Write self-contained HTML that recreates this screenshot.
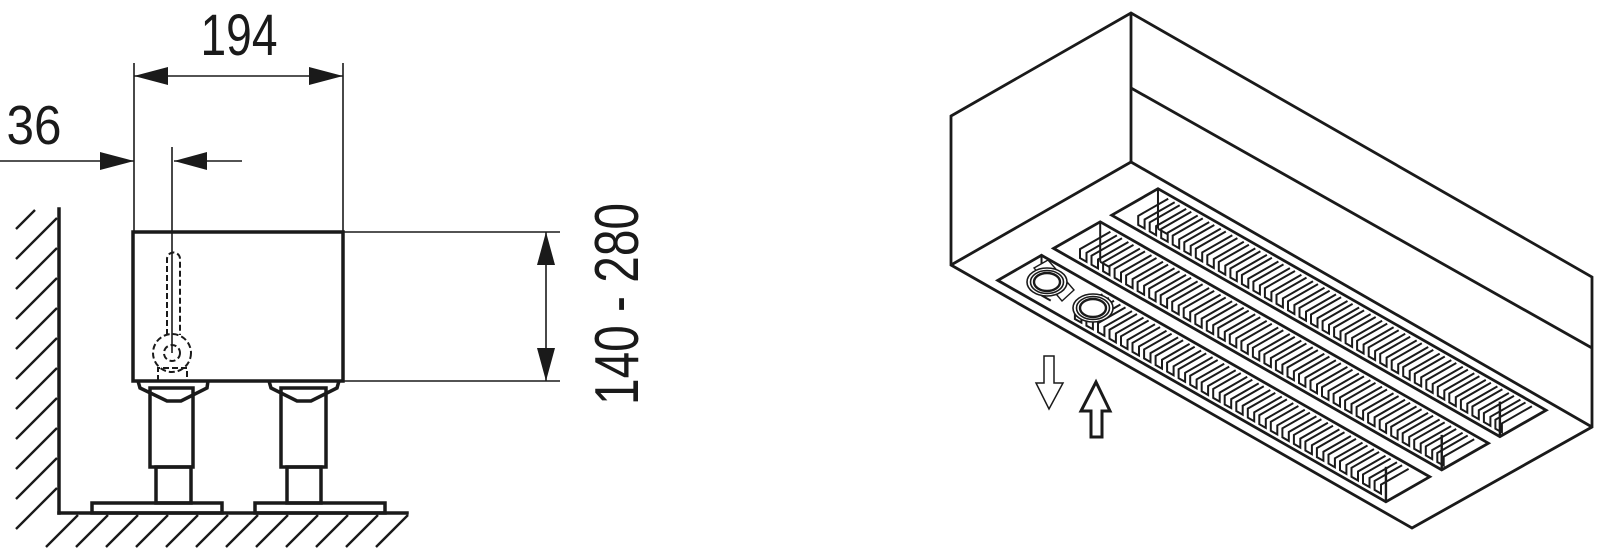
<!DOCTYPE html>
<html><head><meta charset="utf-8"><style>
html,body{margin:0;padding:0;background:#fff;}
svg{display:block;}
text{font-family:"Liberation Sans",sans-serif;fill:#1a1a1a;}
</style></head><body>
<svg id="s" width="1600" height="557" viewBox="0 0 1600 557" xmlns="http://www.w3.org/2000/svg">
<g id="hatch" stroke="#1a1a1a" stroke-width="2.4" fill="none"></g>
<g stroke="#1a1a1a" stroke-width="3.5" fill="none" stroke-linecap="square">
<line x1="59" y1="209" x2="59" y2="513"/>
<line x1="59" y1="513" x2="407" y2="513"/>
</g>
<g stroke="#1a1a1a" stroke-width="1.6" fill="none">
<line x1="134" y1="63" x2="134" y2="232"/>
<line x1="343" y1="63" x2="343" y2="232"/>
<line x1="134" y1="76" x2="343" y2="76"/>
<line x1="0" y1="161" x2="134" y2="161"/>
<line x1="174" y1="161" x2="242" y2="161"/>
<line x1="172" y1="147" x2="172" y2="353"/>
<line x1="343" y1="232" x2="560" y2="232"/>
<line x1="343" y1="381" x2="560" y2="381"/>
<line x1="546" y1="232" x2="546" y2="381"/>
</g>
<g fill="#1a1a1a">
<polygon points="134,76 168,67 168,85"/>
<polygon points="343,76 309,67 309,85"/>
<polygon points="134,161 100,152 100,170"/>
<polygon points="174,161 207,152 207,170"/>
<polygon points="546,232 537,265 555,265"/>
<polygon points="546,381 537,348 555,348"/>
</g>
<text x="239" y="55" font-size="58" text-anchor="middle" textLength="77" lengthAdjust="spacingAndGlyphs">194</text>
<text x="34" y="144" font-size="55" text-anchor="middle" textLength="55" lengthAdjust="spacingAndGlyphs">36</text>
<text transform="translate(638,304) rotate(-90)" x="0" y="0" font-size="62" text-anchor="middle" textLength="202" lengthAdjust="spacingAndGlyphs">140 - 280</text>
<g stroke="#1a1a1a" stroke-width="3.5" fill="none" stroke-linejoin="miter">
<rect x="133" y="232" width="210" height="149"/>
<path d="M138 381 L140 388 L167 401 L181 401 L207 388 L208 381"/>
<rect x="150" y="388" width="43" height="79"/>
<rect x="156" y="467" width="35" height="36"/>
<rect x="92" y="503" width="130" height="10"/>
<path d="M269 381 L271 388 L297 401 L311 401 L337 388 L339 381"/>
<rect x="281" y="388" width="45" height="79"/>
<rect x="287" y="467" width="34" height="36"/>
<rect x="255" y="503" width="130" height="10"/>
</g>
<g stroke="#1a1a1a" stroke-width="2" fill="none" stroke-dasharray="6,3">
<path d="M167 335 L167 259 A6.5 6.5 0 0 1 180 259 L180 335"/>
<circle cx="172" cy="353" r="19"/>
<circle cx="172" cy="353" r="8"/>
<path d="M158 381 L158 368 L187 368 L187 381"/>
</g>
<g stroke="#1a1a1a" stroke-width="2.8" fill="none" stroke-linejoin="miter">
<polygon points="951,116 1131,13 1592,277 1592,427 1412,528 951,265"/>
<line x1="1131" y1="13" x2="1131" y2="162"/>
<line x1="1131" y1="88" x2="1592" y2="348"/>
<line x1="951" y1="265" x2="1131" y2="162"/>
<line x1="1131" y1="162" x2="1592" y2="427"/>
</g>
<g id="slots" stroke="#1a1a1a" fill="none"></g>
<g stroke="#1a1a1a" stroke-width="1.6" fill="#fff">
<path d="M1034 268 L1048 260 L1074 290 L1062 301 Z" stroke-width="1.4"/>
<ellipse cx="1047" cy="282" rx="20" ry="14"/>
<ellipse cx="1047" cy="282" rx="16.5" ry="11.5"/>
<ellipse cx="1047" cy="282" rx="13" ry="9" stroke-width="2.4"/>
<ellipse cx="1093" cy="308" rx="20" ry="14"/>
<ellipse cx="1093" cy="308" rx="16.5" ry="11.5"/>
<ellipse cx="1093" cy="308" rx="13" ry="9" stroke-width="2.4"/>
</g>
<polygon points="1044,356 1054,356 1054,383 1063,383 1049,409 1036,383 1044,383" fill="none" stroke="#1a1a1a" stroke-width="1.5"/>
<polygon points="1091,437 1102,437 1102,411 1110,411 1096,382 1081,411 1091,411" fill="none" stroke="#1a1a1a" stroke-width="3"/>
<script>
(function(){
var NS="http://www.w3.org/2000/svg";
function el(p,tag,a){var e=document.createElementNS(NS,tag);for(var k in a)e.setAttribute(k,a[k]);p.appendChild(e);return e;}
var h=document.getElementById("hatch");
el(h,"line",{x1:16,y1:229,x2:35,y2:210});
for(var y=259;y<=545;y+=30){el(h,"line",{x1:16,y1:y,x2:57,y2:y-41});}
for(var x=46;x<=380;x+=30){el(h,"line",{x1:x,y1:547,x2:x+32,y2:515});}
function P(s,t){return [951+461*s+180*t,265+263*s-103*t];}
function f(p){return p[0].toFixed(1)+","+p[1].toFixed(1);}
var g=document.getElementById("slots");
var slots=[[0.055,0.298,0.22],[0.365,0.624,0.11],[0.688,0.945,0.11]];
var s0=0.08,s1=0.922;
slots.forEach(function(sl){
 var t0=sl[0],t1=sl[1];
 el(g,"polygon",{points:[P(s0,t0),P(s1,t0),P(s1,t1),P(s0,t1)].map(f).join(" "),"stroke-width":2.8});
 var a=P(s1,t0);el(g,"line",{x1:a[0],y1:a[1],x2:a[0],y2:a[1]-35,"stroke-width":2.4});
 var b=P(s0,t1);el(g,"line",{x1:b[0],y1:b[1],x2:b[0],y2:b[1]+40,"stroke-width":2});
 var bb=P(s0+0.02,t1);el(g,"line",{x1:b[0],y1:b[1]+40,x2:bb[0],y2:bb[1]+40,"stroke-width":2});
 for(var s=sl[2];s<=0.89;s+=0.025){
  var A=P(s,t1-0.02),B=P(s,t0+0.07),C=P(s+0.014,t0+0.07),D=P(s+0.014,t1-0.02);
  var d="M"+f(A)+" L"+f(B)+" l0,9 L"+C[0].toFixed(1)+","+(C[1]+9).toFixed(1)+" L"+C[0].toFixed(1)+","+C[1].toFixed(1)+" L"+f(D);
  el(g,"path",{d:d,"stroke-width":2});
 }
});
})();
</script>
</svg>
</body></html>
